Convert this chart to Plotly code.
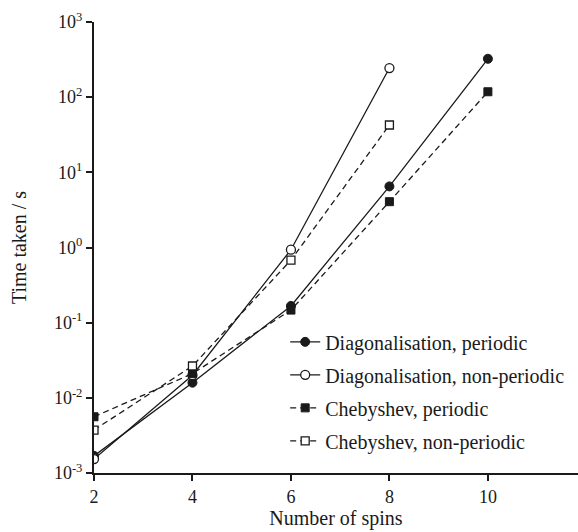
import plotly.graph_objects as go

spins = [2, 4, 6, 8, 10]
diag_periodic = [1.69e-3, 0.0159, 0.167, 6.5, 324]
spins_np = [2, 4, 6, 8]
diag_nonperiodic = [1.53e-3, 0.020, 0.935, 244]
cheb_periodic = [5.6e-3, 0.021, 0.147, 4.07, 118]
cheb_nonperiodic = [3.73e-3, 0.0265, 0.68, 42.6]

y_tickvals = [1e-3, 1e-2, 1e-1, 1e0, 1e1, 1e2, 1e3]
y_ticktext = ["10<sup>-3</sup>", "10<sup>-2</sup>", "10<sup>-1</sup>", "10<sup>0</sup>",
              "10<sup>1</sup>", "10<sup>2</sup>", "10<sup>3</sup>"]
x_tickvals = [2, 4, 6, 8, 10]

INK = "#1a1a1a"
FONT = "Liberation Serif"

fig = go.Figure()
fig.add_trace(go.Scatter(
    x=spins, y=diag_periodic, mode="lines+markers", name="Diagonalisation, periodic",
    legendgroup="a",
    line=dict(color=INK, width=1.3),
    marker=dict(symbol="circle", size=9, color=INK, line=dict(color=INK, width=1))))
fig.add_trace(go.Scatter(
    x=spins_np, y=diag_nonperiodic, mode="lines+markers", name="Diagonalisation, non-periodic",
    legendgroup="b",
    line=dict(color=INK, width=1.3),
    marker=dict(symbol="circle", size=9, color="white", line=dict(color=INK, width=1.3))))
fig.add_trace(go.Scatter(
    x=spins, y=cheb_periodic, mode="lines+markers", name="Chebyshev, periodic",
    legendgroup="c",
    line=dict(color=INK, width=1.3, dash="6px,4px"),
    marker=dict(symbol="square", size=8, color=INK, line=dict(color=INK, width=1))))
fig.add_trace(go.Scatter(
    x=spins_np, y=cheb_nonperiodic, mode="lines+markers", name="Chebyshev, non-periodic",
    legendgroup="d",
    line=dict(color=INK, width=1.3, dash="6px,4px"),
    marker=dict(symbol="square", size=8, color="white", line=dict(color=INK, width=1.3))))

fig.update_layout(
    width=578, height=532,
    margin=dict(l=94, r=0, t=22, b=59),
    paper_bgcolor="white", plot_bgcolor="white",
    font=dict(family=FONT, size=20, color=INK),
    showlegend=True,
    legend=dict(x=0.395, y=0.334, xanchor="left", yanchor="top",
                bgcolor="rgba(0,0,0,0)", font=dict(family=FONT, size=20, color=INK),
                tracegroupgap=4, traceorder="grouped"),
    xaxis=dict(range=[2, 11.83], tickvals=x_tickvals, ticks="outside", ticklen=6,
               tickwidth=2, tickcolor=INK, showline=True, linewidth=2, linecolor=INK,
               showgrid=False, zeroline=False,
               title=dict(text="Number of spins", font=dict(family=FONT, size=20), standoff=0),
               tickfont=dict(family=FONT, size=18, color=INK)),
    yaxis=dict(type="log", range=[-3, 3], tickvals=y_tickvals, ticktext=y_ticktext,
               ticks="outside", ticklen=6, tickwidth=2, tickcolor=INK,
               showline=True, linewidth=2, linecolor=INK, showgrid=False, zeroline=False,
               title=dict(text="Time taken / s", font=dict(family=FONT, size=20), standoff=22),
               tickfont=dict(family=FONT, size=18, color=INK)),
)

fig.write_html("out.html")
